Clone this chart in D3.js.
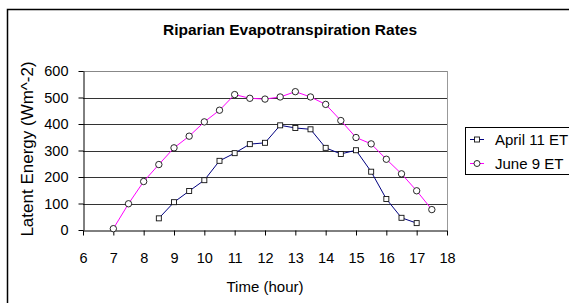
<!DOCTYPE html>
<html>
<head>
<meta charset="utf-8">
<script src="https://cdn.jsdelivr.net/npm/d3@7"></script>
<style>
  body { margin: 0; background: #fff; }
  text { font-family: "Liberation Sans", Arial, sans-serif; fill: #000; }
</style>
</head>
<body>
<script>
const w = 569
const h = 303

// data
const hoursApril = [8.5, 9, 9.5, 10, 10.5, 11, 11.5, 12, 12.5, 13, 13.5, 14, 14.5, 15, 15.5, 16, 16.5, 17]
const april11 = [44, 105, 147, 188, 261, 290, 324, 329, 395, 385, 380, 310, 287, 301, 220, 117, 46, 26]
const hoursJune = [7, 7.5, 8, 8.5, 9, 9.5, 10, 10.5, 11, 11.5, 12, 12.5, 13, 13.5, 14, 14.5, 15, 15.5, 16, 16.5, 17, 17.5]
const june9 = [5, 99, 183, 247, 310, 354, 408, 452, 511, 497, 494, 502, 522, 502, 474, 413, 349, 325, 267, 212, 148, 77]
const xTicks = [6, 7, 8, 9, 10, 11, 12, 13, 14, 15, 16, 17, 18]
const yTicks = [0, 100, 200, 300, 400, 500, 600]
const seriesNames = ['April 11 ET', 'June 9 ET']

const plot = {left: 83, right: 447, top: 71, bottom: 230}

const svg = d3.select('body')
              .append('svg')
              .attr('width', w)
              .attr('height', h)

// outer chart frame (runs off the picture on right and bottom)
svg.append('rect')
   .attr('x', 7.5)
   .attr('y', 9.5)
   .attr('width', 600)
   .attr('height', 400)
   .attr('fill', '#fff')
   .attr('stroke', '#000')
   .attr('stroke-width', 1.5)

const xScale = d3.scaleLinear()
                 .domain([6, 18])
                 .range([plot.left, plot.right])

const yScale = d3.scaleLinear()
                 .domain([0, 600])
                 .range([plot.bottom, plot.top])

// gridlines
svg.append('g')
   .selectAll('line')
   .data(yTicks.slice(1))
   .enter()
   .append('line')
   .attr('x1', plot.left)
   .attr('x2', plot.right)
   .attr('y1', d => Math.round(yScale(d)) + 0.5)
   .attr('y2', d => Math.round(yScale(d)) + 0.5)
   .attr('stroke', d => d === 600 ? '#888' : '#333')
   .attr('stroke-width', 1)

// right border of plot area
svg.append('line')
   .attr('x1', plot.right + 0.5)
   .attr('x2', plot.right + 0.5)
   .attr('y1', plot.top)
   .attr('y2', plot.bottom)
   .attr('stroke', '#999')

const xAxis = d3.axisBottom(xScale)
                .tickValues(xTicks)
                .tickSize(5)
                .tickSizeOuter(0)
                .tickPadding(17)

const yAxis = d3.axisLeft(yScale)
                .tickValues(yTicks)
                .tickSize(5)
                .tickSizeOuter(0)
                .tickPadding(10)

svg.append('g')
   .attr('class', 'x-axis')
   .attr('transform', 'translate(0,' + (plot.bottom + 0.5) + ')')
   .call(xAxis)

svg.append('g')
   .attr('class', 'y-axis')
   .attr('transform', 'translate(' + (plot.left + 0.5) + ',0)')
   .call(yAxis)

svg.selectAll('.domain').attr('stroke', '#000')
svg.selectAll('.tick line').attr('stroke', '#000')
svg.selectAll('.tick text')
   .style('font-family', '"Liberation Sans", Arial, sans-serif')
   .style('font-size', '14.5px')

const line = d3.line()
               .x(d => xScale(d[0]))
               .y(d => yScale(d[1]))

const aprilData = hoursApril.map((x, i) => [x, april11[i]])
const juneData = hoursJune.map((x, i) => [x, june9[i]])

svg.append('path')
   .datum(juneData)
   .attr('d', line)
   .attr('fill', 'none')
   .attr('stroke', '#ff00ff')
   .attr('stroke-width', 1)

svg.append('path')
   .datum(aprilData)
   .attr('d', line)
   .attr('fill', 'none')
   .attr('stroke', '#000080')
   .attr('stroke-width', 1)

svg.append('g')
   .selectAll('rect')
   .data(aprilData)
   .enter()
   .append('rect')
   .attr('x', d => xScale(d[0]) - 2.5)
   .attr('y', d => yScale(d[1]) - 2.5)
   .attr('width', 5)
   .attr('height', 5)
   .attr('fill', '#fff')
   .attr('stroke', '#111')
   .attr('stroke-width', 0.9)

svg.append('g')
   .selectAll('circle')
   .data(juneData)
   .enter()
   .append('circle')
   .attr('cx', d => xScale(d[0]))
   .attr('cy', d => yScale(d[1]))
   .attr('r', 3.2)
   .attr('fill', '#fff')
   .attr('stroke', '#111')
   .attr('stroke-width', 0.9)

// title and axis labels
svg.append('text')
   .attr('x', 290)
   .attr('y', 35)
   .attr('text-anchor', 'middle')
   .style('font-size', '15.5px')
   .style('font-weight', 'bold')
   .text('Riparian Evapotranspiration Rates')

svg.append('text')
   .attr('x', 265)
   .attr('y', 292)
   .attr('text-anchor', 'middle')
   .style('font-size', '15px')
   .text('Time (hour)')

svg.append('text')
   .attr('transform', 'translate(33,149) rotate(-90)')
   .attr('text-anchor', 'middle')
   .style('font-size', '17px')
   .text('Latent Energy (Wm^-2)')

// legend
const legend = svg.append('g')
svg.append('rect')
   .attr('x', 465.5)
   .attr('y', 127.5)
   .attr('width', 130)
   .attr('height', 47)
   .attr('fill', 'none')
   .attr('stroke', '#000')

const legendRows = legend.selectAll('g')
   .data(seriesNames)
   .enter()
   .append('g')
   .attr('transform', (d, i) => 'translate(470,' + (139.5 + i * 24) + ')')

legendRows.append('line')
   .attr('x1', 0)
   .attr('x2', 14)
   .attr('stroke', (d, i) => i === 0 ? '#000080' : '#ff00ff')

legendRows.each(function (d, i) {
  const g = d3.select(this)
  if (i === 0) {
    g.append('rect').attr('x', 4.5).attr('y', -2.5).attr('width', 5).attr('height', 5)
     .attr('fill', '#fff').attr('stroke', '#111').attr('stroke-width', 0.9)
  } else {
    g.append('circle').attr('cx', 7).attr('r', 3)
     .attr('fill', '#fff').attr('stroke', '#111').attr('stroke-width', 0.9)
  }
})

legendRows.append('text')
   .attr('x', 25)
   .attr('dy', '0.36em')
   .style('font-size', '15px')
   .text(d => d)
</script>
</body>
</html>
